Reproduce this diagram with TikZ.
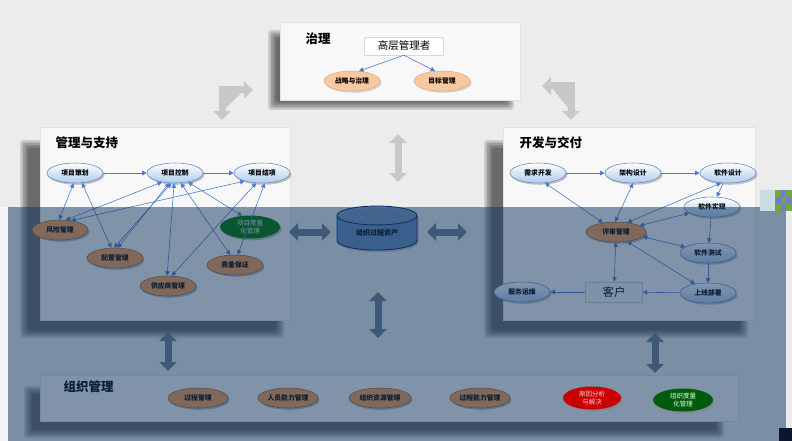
\documentclass[tikz,border=0pt]{standalone}
\usepackage{fontspec}
\setmainfont{Noto Sans CJK SC}
\usetikzlibrary{shapes.geometric,arrows.meta,shadows}
\definecolor{bg}{RGB}{236,236,237}
\definecolor{panelfill}{RGB}{248,248,248}
\definecolor{paneledge}{RGB}{226,226,226}
\definecolor{blueedge}{RGB}{110,140,185}
\definecolor{bluebot}{RGB}{175,202,238}
\definecolor{peach}{RGB}{248,200,160}
\definecolor{peachedge}{RGB}{225,170,125}
\definecolor{brownfill}{RGB}{250,160,85}
\definecolor{brownedge}{RGB}{140,95,60}
\definecolor{conncol}{RGB}{75,125,210}
\definecolor{blklight}{RGB}{200,200,200}
\definecolor{blkdark}{RGB}{110,125,145}
\definecolor{veil}{RGB}{18,56,98}
\definecolor{greenfill}{RGB}{0,92,10}
\definecolor{pqmgreen}{RGB}{0,120,0}
\definecolor{redfill}{RGB}{200,0,0}
\definecolor{cylfill}{RGB}{85,145,225}
\definecolor{cyledge}{RGB}{15,40,100}
\definecolor{icongreen}{RGB}{110,170,60}
\definecolor{iconblue}{RGB}{120,120,225}
\definecolor{iconlight}{RGB}{200,220,225}
\definecolor{cornermark}{RGB}{12,22,45}
\newcommand\softshadow[4]{%
  \foreach \k in {0,...,5}{%
    \fill[black,opacity=0.12,rounded corners=3pt] ({#1+\k*1.6},{#2+\k*1.6}) rectangle ({#3-\k*1.6},{#4-\k*1.6});}}
\tikzset{
  ell/.style={ellipse, inner sep=0pt, minimum width=56pt, minimum height=20pt,
    font=\fontsize{6.8}{7.5}\selectfont\bfseries, align=center},
  blueell/.style={ell, draw=blueedge, line width=0.6pt, top color=white, bottom color=bluebot,
    drop shadow={shadow xshift=1.5pt, shadow yshift=-1.8pt, opacity=0.45}},
  peachell/.style={ell, draw=peachedge, line width=0.5pt, fill=peach,
    drop shadow={shadow xshift=1.5pt, shadow yshift=-1.8pt, opacity=0.3}},
  brownell/.style={ell, draw=brownedge, line width=0.5pt, fill=brownfill,
    drop shadow={shadow xshift=1.5pt, shadow yshift=-1.8pt, opacity=0.55}},
  greenell/.style={ell, fill=greenfill, text=white!88!green, font=\fontsize{6.5}{7.5}\selectfont,
    drop shadow={shadow xshift=1.5pt, shadow yshift=-1.8pt, opacity=0.5}},
  redell/.style={ell, fill=redfill, text=white!80!red, font=\fontsize{6.5}{7.5}\selectfont,
    drop shadow={shadow xshift=1.5pt, shadow yshift=-1.8pt, opacity=0.5}},
  paneltitle/.style={font=\fontsize{12.5}{14}\selectfont\bfseries, anchor=west},
  conn/.style={draw=conncol, line width=0.6pt, -{Triangle[width=4.5pt,length=4.5pt]}},
  dconn/.style={draw=conncol, line width=0.6pt, {Triangle[width=4.5pt,length=4.5pt]}-{Triangle[width=4.5pt,length=4.5pt]}},
  blk/.style={line width=7pt, line join=miter, {Triangle[width=17pt,length=9pt]}-{Triangle[width=17pt,length=9pt]}},
  panel/.style={fill=panelfill, draw=paneledge, line width=0.4pt}
}
\begin{document}
\begin{tikzpicture}[x=1pt,y=-1pt]
\useasboundingbox (0,0) rectangle (792,441);
\fill[bg] (0,0) rectangle (792,441);
\fill[white,opacity=0.5] (0,207) rectangle (8,441);

% ---------- shadows and panels ----------
\softshadow{268}{30}{514}{110}
\fill[panel] (280,22) rectangle (520,100);
\softshadow{20}{140}{284}{338}
\fill[panel] (40,127) rectangle (290,320);
\softshadow{484}{140}{748}{338}
\fill[panel] (503,127) rectangle (755,320);
\softshadow{24}{386}{724}{438}
\fill[panel] (40,375) rectangle (738,421);

% ---------- governance ----------
\node[paneltitle] (tgov) at (302,39) {治理};
\node[draw=white!85!black, fill=white, minimum width=79pt, minimum height=18pt, inner sep=0pt,
  font=\fontsize{10.5}{12}\selectfont] (top) at (404,46) {高层管理者};
\node[peachell] (gs) at (352,81) {战略与治理};
\node[peachell] (gt) at (442,81) {目标管理};
\draw[conn] (top.south) -- (gs.55);
\draw[conn] (top.south) -- (gt.125);

% ---------- block arrows (top) ----------
\coordinate (la1) at (253,90); \coordinate (la2) at (222,120);
\coordinate (ra1) at (542,86); \coordinate (ra2) at (571,120);
\draw[blk, draw=blklight, fill=blklight] (la1) -| (la2);
\draw[blk, draw=blklight, fill=blklight] (ra1) -| (ra2);
\coordinate (mv1) at (398,134); \coordinate (mv2) at (398,182);
\draw[blk, draw=blklight, fill=blklight] (mv1) -- (mv2);

% ---------- management & support ----------
\node[paneltitle] (tms) at (52,143) {管理与支持};
\node[blueell] (pp) at (75,173) {项目策划};
\node[blueell] (pc) at (175,173) {项目控制};
\node[blueell] (pe) at (262,173) {项目结项};
\node[brownell] (risk) at (60,230) {风险管理};
\node[brownell] (cfg) at (115,258) {配置管理};
\node[brownell] (qa) at (235,265) {质量保证};
\node[brownell] (sup) at (168,286) {供应商管理};
\node[greenell, fill=pqmgreen, minimum width=60pt, minimum height=23pt] (pqm) at (250,227) {项目度量\\化管理};
\draw[conn] (pp) -- (pc);
\draw[conn] (pc) -- (pe);
\draw[dconn] (pp.262) -- (risk.95);
\draw[dconn] (pc.215) -- (risk.60);
\draw[dconn] (pe.205) -- (risk.40);
\draw[dconn] (pp.305) -- (cfg.110);
\draw[dconn] (pc.240) -- (cfg.75);
\draw[dconn] (pc.265) -- (sup.95);
\draw[dconn] (pe.240) -- (sup.70);
\draw[dconn] (pc.300) -- (qa.115);
\draw[dconn] (pe.285) -- (qa.75);
\draw[dconn] (pc.325) -- (pqm.125);
\draw[dconn] (pc.250) -- (cfg.95);

% ---------- development & delivery ----------
\node[paneltitle] (tdd) at (516,143) {开发与交付};
\node[blueell] (rd) at (538,173) {需求开发};
\node[blueell] (ad) at (633,173) {架构设计};
\node[blueell] (sd) at (728,173) {软件设计};
\node[blueell] (si) at (712,207) {软件实现};
\node[brownell, minimum width=60pt] (rev) at (616,232) {评审管理};
\node[blueell] (st) at (708,253) {软件测试};
\node[blueell] (dep) at (708,293) {上线部署};
\node[draw=white!80!black, fill=white!96!black, minimum width=57pt, minimum height=20pt, inner sep=0pt,
  font=\fontsize{11.5}{13}\selectfont] (cust) at (614,292) {客户};
\node[blueell] (ops) at (522,292) {服务运维};
\draw[conn] (rd) -- (ad);
\draw[conn] (ad) -- (sd);
\draw[conn] (sd) -- (si);
\draw[conn] (si) -- (st);
\draw[conn] (st) -- (dep);
\draw[conn] (dep) -- (cust);
\draw[conn] (cust) -- (ops);
\draw[dconn] (cust) -- (rev);
\draw[dconn] (rev.145) -- (rd.305);
\draw[dconn] (rev.95) -- (ad.270);
\draw[dconn] (rev.40) -- (sd.235);
\draw[dconn] (rev.15) -- (si.195);
\draw[dconn] (rev.350) -- (st.165);
\draw[dconn] (rev.320) -- (dep.145);

% ---------- process assets ----------
\node[cylinder, shape border rotate=90, aspect=0.45, draw=cyledge, line width=0.9pt,
  cylinder uses custom fill, cylinder body fill=cylfill, cylinder end fill=cylfill!80!white,
  minimum width=80pt, minimum height=44pt, inner sep=0pt,
  drop shadow={shadow xshift=1.5pt, shadow yshift=-2pt, opacity=0.4},
  font=\fontsize{7}{8}\selectfont\bfseries] (opa) at (377,233) {组织过程资产};
\coordinate (hl1) at (289,232); \coordinate (hl2) at (331,232);
\coordinate (hr1) at (427,232); \coordinate (hr2) at (467,232);
\draw[blk, draw=blkdark, fill=blkdark] (hl1) -- (hl2);
\draw[blk, draw=blkdark, fill=blkdark] (hr1) -- (hr2);
\coordinate (cv1) at (378,292); \coordinate (cv2) at (378,338);
\draw[blk, draw=blkdark, fill=blkdark] (cv1) -- (cv2);
\coordinate (lv1) at (168,332); \coordinate (lv2) at (168,371);
\draw[blk, draw=blkdark, fill=blkdark] (lv1) -- (lv2);
\coordinate (rv1) at (655,333); \coordinate (rv2) at (655,373);
\draw[blk, draw=blkdark, fill=blkdark] (rv1) -- (rv2);

% ---------- organisation management ----------
\node[paneltitle] (tom) at (60,387) {组织管理};
\node[brownell, minimum width=60pt] (o1) at (198,398) {过程管理};
\node[brownell, minimum width=60pt] (o2) at (288,398) {人员能力管理};
\node[brownell, minimum width=62pt] (o3) at (380,398) {组织资源管理};
\node[brownell, minimum width=60pt] (o4) at (480,398) {过程能力管理};

% ---------- veil over lower part ----------
\fill[veil, opacity=0.52] (8,207) rectangle (786,441);

\node[redell, minimum width=58pt, minimum height=23pt] (o5) at (592,398) {原因分析\\与解决};
\node[greenell, minimum width=60pt, minimum height=23pt] (o6) at (683,400) {组织度量\\化管理};

% small icon and corner mark
\fill[iconlight] (760,190) rectangle (775,211);
\foreach \i in {0,1,2}{\foreach \j in {0,1,2}{%
  \pgfmathtruncatemacro\chk{mod(\i+\j,2)}%
  \ifnum\chk=0
    \fill[icongreen] ({775+\i*5.5},{190+\j*7}) rectangle ({780.5+\i*5.5},{197+\j*7});
  \else
    \fill[iconblue] ({775+\i*5.5},{190+\j*7}) rectangle ({780.5+\i*5.5},{197+\j*7});
  \fi}}
\fill[cornermark] (779,428) rectangle (792,441);
\end{tikzpicture}
\end{document}
